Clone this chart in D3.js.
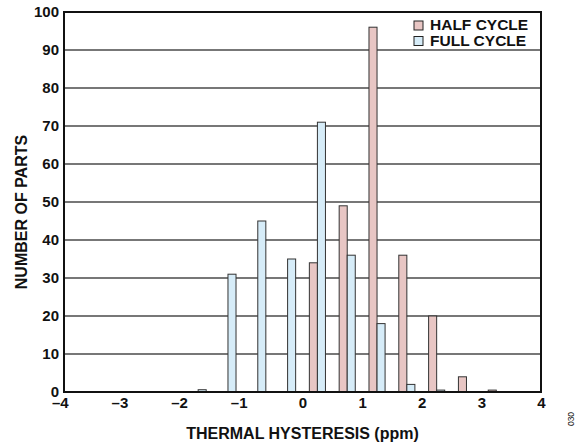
<!DOCTYPE html>
<html>
<head>
<meta charset="utf-8">
<script src="https://cdn.jsdelivr.net/npm/d3@7"></script>
<style>
  html, body { margin: 0; padding: 0; background: #fff; }
  svg { display: block; }
  text { font-family: "Liberation Sans", Arial, sans-serif; font-weight: bold; fill: #111; }
</style>
</head>
<body>
<svg id="chart" width="586" height="448"></svg>
<script>
// Histogram bin centres (ppm)
const binCenters = [-1.75, -1.25, -0.75, -0.25, 0.25, 0.75, 1.25, 1.75, 2.25, 2.75, 3.25];
// Number of parts per bin
const halfCycle = [0, 0, 0, 0, 34, 49, 96, 36, 20, 4, 0.5];
const fullCycle = [0.6, 31, 45, 35, 71, 36, 18, 2, 0.5, 0, 0];
const seriesNames = ["HALF CYCLE", "FULL CYCLE"];
const seriesColors = ["#e8c6c4", "#d6ecf8"];
const xTicks = [-4, -3, -2, -1, 0, 1, 2, 3, 4];
const yTicks = [0, 10, 20, 30, 40, 50, 60, 70, 80, 90, 100];

const svg = d3.select("#chart");
const plotLeft = 64, plotRight = 541, plotTop = 12, plotBottom = 392;
const tickFont = 15;

const x = d3.scaleLinear().domain([-4, 4]).range([plotLeft, plotRight]);
const y = d3.scaleLinear().domain([0, 100]).range([plotBottom, plotTop]);
const barW = (x(0.5) - x(0)) * 0.27;

// horizontal grid
svg.append("g").selectAll("line")
  .data(yTicks.filter(v => v > 0 && v < 100))
  .join("line")
  .attr("x1", plotLeft).attr("x2", plotRight)
  .attr("y1", d => y(d)).attr("y2", d => y(d))
  .attr("stroke", "#4a4a4a").attr("stroke-width", 1.5);

// bars: half cycle left of the bin centre, full cycle right of it
const series = [halfCycle, fullCycle];
series.forEach((vals, si) => {
  svg.append("g").selectAll("rect")
    .data(binCenters.map((c, i) => ({ c, v: vals[i] })).filter(d => d.v > 0))
    .join("rect")
    .attr("x", d => si === 0 ? x(d.c) - barW : x(d.c))
    .attr("width", barW)
    .attr("y", d => y(d.v))
    .attr("height", d => y(0) - y(d.v))
    .attr("fill", seriesColors[si])
    .attr("stroke", "#333")
    .attr("stroke-width", 1);
});

// frame
svg.append("rect")
  .attr("x", plotLeft).attr("y", plotTop)
  .attr("width", plotRight - plotLeft).attr("height", plotBottom - plotTop)
  .attr("fill", "none").attr("stroke", "#111").attr("stroke-width", 2);

// y axis labels
const yAxis = d3.axisLeft(y).tickValues(yTicks).tickSize(0).tickPadding(5).tickFormat(d3.format("d"));
const yg = svg.append("g").attr("transform", `translate(${plotLeft},0)`).call(yAxis);
yg.select(".domain").remove();
yg.selectAll("text").style("font-size", tickFont + "px").attr("font-family", "Liberation Sans, Arial, sans-serif").attr("font-weight", "bold").attr("fill", "#111");

// x axis labels: the digit sits on the tick, a minus sign hangs to its left
const xAxis = d3.axisBottom(x).tickValues(xTicks).tickSize(0).tickPadding(5)
  .tickFormat(d => d < 0 ? "\u2013" + Math.abs(d) : String(d));
const xg = svg.append("g").attr("transform", `translate(0,${plotBottom})`).call(xAxis);
xg.select(".domain").remove();
xg.selectAll("text")
  .style("font-size", tickFont + "px")
  .attr("font-family", "Liberation Sans, Arial, sans-serif").attr("font-weight", "bold").attr("fill", "#111")
  .attr("text-anchor", "end")
  .attr("x", tickFont * 0.556 / 2);

// axis titles
svg.append("text")
  .attr("x", x(0)).attr("y", 439)
  .attr("text-anchor", "middle")
  .style("font-size", "16px")
  .text("THERMAL HYSTERESIS (ppm)");

svg.append("text")
  .attr("transform", "translate(27,212) rotate(-90)")
  .attr("text-anchor", "middle")
  .style("font-size", "16px")
  .text("NUMBER OF PARTS");

// legend
const lg = svg.append("g");
seriesNames.forEach((name, i) => {
  const ly = 21 + i * 15.5;
  lg.append("rect")
    .attr("x", 414).attr("y", ly)
    .attr("width", 9).attr("height", 9)
    .attr("fill", seriesColors[i]).attr("stroke", "#222").attr("stroke-width", 1);
  lg.append("text")
    .attr("x", 430).attr("y", ly + 9)
    .style("font-size", "15.5px")
    .text(name);
});

// figure number
svg.append("text")
  .attr("transform", "translate(574,419) rotate(-90)")
  .attr("text-anchor", "middle")
  .style("font-size", "8.5px")
  .style("font-weight", "normal")
  .attr("fill", "#333")
  .text("030");
</script>
</body>
</html>
